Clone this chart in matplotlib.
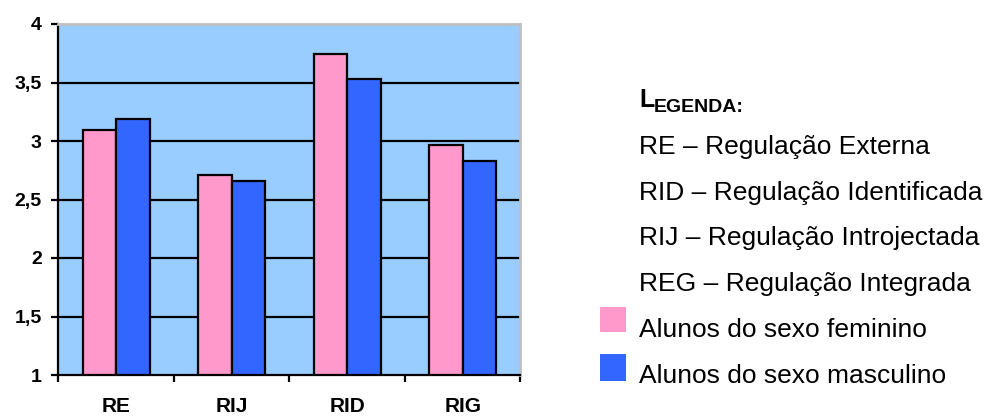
import matplotlib
matplotlib.use("Agg")
import matplotlib.pyplot as plt
import matplotlib.transforms as mtransforms
import numpy as np
from matplotlib.patches import Rectangle

categories = ["RE", "RIJ", "RID", "RIG"]
feminino = [3.09, 2.71, 3.74, 2.97]
masculino = [3.19, 2.66, 3.53, 2.83]
yticks = [1, 1.5, 2, 2.5, 3, 3.5, 4]
ytick_labels = ["1", "1,5", "2", "2,5", "3", "3,5", "4"]
legend_lines = ["RE – Regulação Externa", "RID – Regulação Identificada",
                "RIJ – Regulação Introjectada", "REG – Regulação Integrada"]
series_labels = ["Alunos do sexo feminino", "Alunos do sexo masculino"]

plt.rcParams['font.family'] = ['Liberation Sans', 'DejaVu Sans']

fig = plt.figure(figsize=(9.87, 4.17), dpi=100)
ax = fig.add_axes([58.3/987, 1-375/417, (520.5-58.3)/987, 351/417])
ax.set_facecolor('#99CCFF')

x = np.arange(len(categories))
w = 0.29
ax.bar(x - w/2, np.array(feminino) - 1, w, bottom=1, color='#FF99CC', edgecolor='black', linewidth=1.6, zorder=3)
ax.bar(x + w/2, np.array(masculino) - 1, w, bottom=1, color='#3366FF', edgecolor='black', linewidth=1.6, zorder=3)

ax.set_xlim(-0.5, len(categories) - 0.5)
ax.set_ylim(1, 4)
ax.set_yticks(yticks)
ax.set_yticklabels(ytick_labels, fontsize=14, fontweight='bold')
for yv in yticks[1:-1]:
    ax.axhline(yv, color='black', linewidth=1.6, zorder=1)

ax.set_xticks(np.arange(-0.5, len(categories), 1.0))
ax.set_xticklabels([])
ax.tick_params(axis='x', direction='out', length=5, width=1.6, colors='black')
ax.tick_params(axis='y', direction='out', length=5, width=1.6, pad=7)
trans = mtransforms.blended_transform_factory(ax.transData, fig.transFigure)
for i, c in enumerate(categories):
    ax.text(i, 1 - 407/417, c, transform=trans, ha='center', va='center',
            fontsize=15, fontweight='bold')

ax.spines['left'].set_linewidth(1.6)
ax.spines['bottom'].set_linewidth(1.6)
ax.spines['top'].set_color('#BFBFBF')
ax.spines['right'].set_color('#BFBFBF')
ax.spines['top'].set_linewidth(2)
ax.spines['right'].set_linewidth(2)

# Legend text
lx = 639 / 987
t = fig.text(lx, 1 - 107/417, "L", fontsize=18, fontweight='bold', va='baseline')
fig.canvas.draw()
ax.annotate("EGENDA:", xy=(1, 0), xycoords=t, fontsize=14, fontweight='bold', va='baseline')
ys = [154, 200, 245, 291]
for yy, s in zip(ys, legend_lines):
    fig.text(lx, 1 - yy/417, s, fontsize=19, va='baseline')
ys2 = [337, 383]
sq = [(307, 332), (354, 381)]
cols = ['#FF99CC', '#3366FF']
for yy, (y0, y1), s, c in zip(ys2, sq, series_labels, cols):
    fig.text(lx, 1 - yy/417, s, fontsize=19, va='baseline')
    fig.patches.append(Rectangle((600/987, 1 - y1/417), 26/987, (y1 - y0)/417,
                                 transform=fig.transFigure, facecolor=c, edgecolor='none'))

fig.savefig("out.png", dpi=100)
